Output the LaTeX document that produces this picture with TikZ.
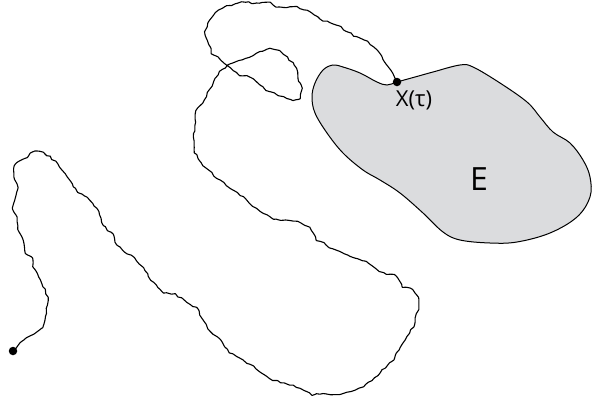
\documentclass[tikz,border=0pt]{standalone}
\usepackage{fontspec}
\setmainfont{Open Sans}
\definecolor{regiongray}{RGB}{219,220,222}
\tikzset{
  walk/.style={line width=1.1pt, black, line join=round},
  region/.style={fill=regiongray, draw=black, line width=1pt},
  dotmark/.style={circle, fill=black, inner sep=0pt, minimum size=8.5pt},
  lab/.style={font=\fontsize{22}{26}\selectfont, inner sep=0pt},
  biglab/.style={font=\fontsize{32}{36}\selectfont, inner sep=0pt}
}
\begin{document}
\begin{tikzpicture}[x=1pt, y=-1pt]
\pgfmathsetseed{11}
\useasboundingbox (0,0) rectangle (592,402);
% region E
\draw[region] plot[smooth cycle, tension=0.6] coordinates {
 (397,82) (415,77) (433,72) (460,65) (473,67) (500,83) (527,102) (540,117)
 (553,132) (570,143) (583,160) (590,177) (590,197) (577,217) (550,233) (517,242)
 (490,243) (460,240) (443,232) (423,213) (400,193) (380,180) (363,170) (343,153)
 (327,133) (315,113) (312,97) (315,83) (323,70) (333,65) (343,67) (360,73)
 (377,82) (387,85)};
\coordinate (s) at (13,351);
\coordinate (x) at (397,82);
% build a wiggly Brownian-like path through traced points
\gdef\walklist{}
\foreach \qx/\qy [remember=\qx as \px (initially 13), remember=\qy as \py (initially 351)] in {
 20/343, 27/338, 37/331, 43/327, 45/317, 48/297, 42/283, 33/267,
 32/258, 25/253, 23/240, 18/230, 17/217, 12/208, 15/197, 18/188,
 15/180, 13/170, 17/163, 27/157, 32/151, 40/151, 50/157, 60/167,
 70/180, 78/192, 87/198, 97/208, 103/225, 113/235, 117/245, 127/253,
 137/260, 143/267, 153/283, 163/293, 175/294, 187/302, 197/308,
 207/328, 217/337, 230/352, 253/367, 273/380, 297/387, 313/395,
 323/393, 340/395, 363/387, 380/373, 393/360, 403/343, 413/327,
 418/310, 418/297, 413/290, 403/287, 395/275, 383/273, 362/260,
 347/255, 330/247, 317/240, 310/227, 297/222, 277/220, 260/212,
 247/200, 233/190, 217/178, 203/165, 195/152, 193/137, 195/123,
 195/110, 203/103, 213/83, 220/72, 228/65,
 238/60, 250/57, 260/52, 270/48, 280/50, 287/57, 295/65, 298/77,
 302/88, 300/98, 293/100, 283/97, 270/92, 260/85, 250/77, 240/75,
 228/66, 220/60, 212/53, 207/40, 205/32, 208/23, 215/13, 223/8,
 232/5, 242/2, 252/3, 260/3, 270/2, 277/7, 287/8, 297/7, 307/10,
 317/17, 327/22, 337/25, 347/32, 357/37, 367/42, 377/50, 383/60,
 390/70, 395/78} {
  \pgfmathtruncatemacro\nsub{max(2,round(veclen(\qx-\px,\qy-\py)/4))}
  \foreach \k in {1,...,\nsub} {
    \pgfmathsetmacro\nx{\px+\k/\nsub*(\qx-\px)+0.9*rand}
    \pgfmathsetmacro\ny{\py+\k/\nsub*(\qy-\py)+0.9*rand}
    \xdef\walklist{\walklist (\nx,\ny)}
  }
}
\edef\walkcmd{\noexpand\draw[walk] plot[smooth, tension=0.5] coordinates {(13,351) \walklist\space (397,82)};}
\walkcmd
\node[dotmark] (start) at (s) {};
\node[dotmark] (hit) at (x) {};
\node[lab] (xl) at (414,100) {X(τ)};
\node[biglab] (el) at (479,179) {E};
\end{tikzpicture}
\end{document}
